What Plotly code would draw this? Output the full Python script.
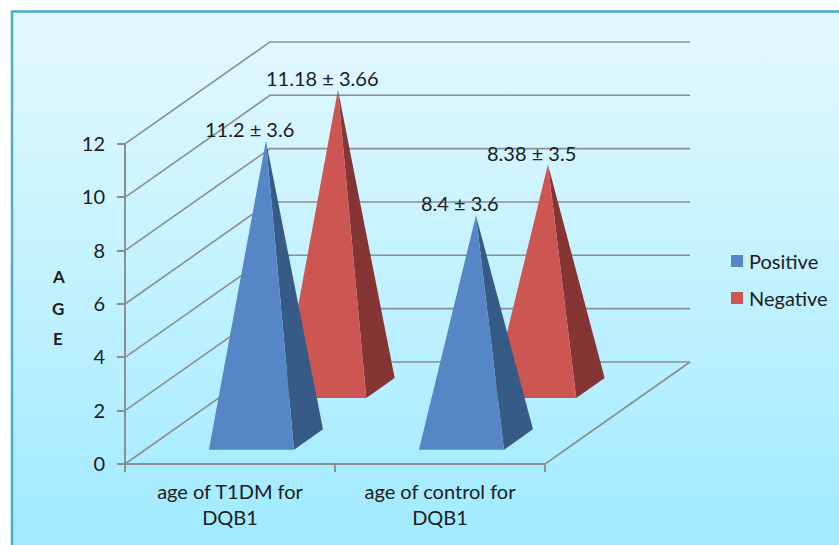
import plotly.graph_objects as go

# ---- data ----
categories = ["age of T1DM for<br>DQB1", "age of control for<br>DQB1"]
positive = [11.2, 8.4]
negative = [11.18, 8.38]
positive_labels = ["11.2 ± 3.6", "8.4 ± 3.6"]
negative_labels = ["11.18 ± 3.66", "8.38 ± 3.5"]
y_ticks = [0, 2, 4, 6, 8, 10, 12]
series_names = ["Positive", "Negative"]

# ---- styling / layout ----
W, H = 839, 545
X0, Y0 = 125, 464         # pixel of the chart origin
CAT_PX, VAL_PX = 210, 26.67
DEPTH_X, DEPTH_Y = 145 / CAT_PX, 102 / VAL_PX   # oblique offset of the floor depth
FONT = "Lato"
FS = 20
TEXT = "#1c1c1c"
GRID = "#8e8e8e"
BLUE, BLUE_SIDE = "#5586C6", "#375B87"
RED, RED_SIDE = "#CD5652", "#843534"

xr = [-X0 / CAT_PX, (W - X0) / CAT_PX]
yr = [(Y0 - H) / VAL_PX, Y0 / VAL_PX]


def proj(cat, depth, value):
    return cat + depth * DEPTH_X, value + depth * DEPTH_Y


fig = go.Figure()


def poly(points, color, name):
    xs = [p[0] for p in points]
    ys = [p[1] for p in points]
    fig.add_trace(go.Scatter(x=xs, y=ys, mode="lines", fill="toself", fillcolor=color,
                             line=dict(width=0), name=name, showlegend=False,
                             hoverinfo="name"))


def polyline(points, width=1.6):
    fig.add_trace(go.Scatter(x=[p[0] for p in points], y=[p[1] for p in points],
                             mode="lines", line=dict(color=GRID, width=width),
                             showlegend=False, hoverinfo="skip"))


# background gradient
fig.add_trace(go.Scatter(
    x=[xr[0] + 11 / CAT_PX, xr[1], xr[1], xr[0] + 11 / CAT_PX, xr[0] + 11 / CAT_PX],
    y=[yr[1] - 11 / VAL_PX, yr[1] - 11 / VAL_PX, yr[0], yr[0], yr[1] - 11 / VAL_PX],
    mode="lines", line=dict(width=0), fill="toself", showlegend=False, hoverinfo="skip",
    fillgradient=dict(type="vertical",
                      colorscale=[[0, "#A0EAFF"], [1, "#E4F9FF"]])))

# walls and floor
for v in y_ticks:
    polyline([proj(0, 0, v), proj(0, 1, v), proj(2, 1, v)])
polyline([proj(2, 0, 0), proj(2, 1, 0)])
polyline([proj(0, 0, 0), proj(2, 0, 0)], 2)
polyline([proj(0, 0, 0), proj(0, 0, 12)], 2)


def pyramid(i, value, d0, d1, front, side, name, shift=0.0):
    left, right = i + 0.303 + shift, i + 0.708 + shift
    apex = proj((left + right) / 2, (d0 + d1) / 2, value)
    poly([proj(right, d0, 0), proj(right, d1, 0), apex], side, name)
    poly([proj(left, d0, 0), proj(right, d0, 0), apex], front, name)
    return apex


apexes = []
for i, v in enumerate(negative):
    apexes.append((pyramid(i, v, 0.647, 0.843, RED, RED_SIDE, series_names[1], -0.006), negative_labels[i]))
for i, v in enumerate(positive):
    apexes.append((pyramid(i, v, 0.14, 0.34, BLUE, BLUE_SIDE, series_names[0]), positive_labels[i]))

annotations = [
    dict(x=a[0], y=a[1], xref="x", yref="y", text=t, showarrow=False,
         xshift=-16, yshift=12, font=dict(family=FONT, size=FS, color=TEXT))
    for a, t in apexes
]
for letter, py in zip("AGE", [276, 308, 338]):
    annotations.append(dict(x=58 / W, y=1 - py / H, xref="paper", yref="paper", text=f"<b>{letter}</b>",
                            xanchor="center", yanchor="middle", showarrow=False,
                            font=dict(family=FONT, size=17, color=TEXT)))
shapes = [
    dict(type="line", xref="paper", yref="paper", x0=12 / W, x1=12 / W, y0=0, y1=1 - 11 / H,
         line=dict(color="#4BACC6", width=2.5)),
    dict(type="line", xref="paper", yref="paper", x0=11 / W, x1=1, y0=1 - 11.5 / H, y1=1 - 11.5 / H,
         line=dict(color="#4BACC6", width=2.5)),
]
for name, color, py in zip(series_names, [BLUE, RED], [261, 298]):
    shapes.append(dict(type="rect", xref="paper", yref="paper", x0=731 / W, x1=743 / W,
                       y0=1 - (py + 6) / H, y1=1 - (py - 6) / H, fillcolor=color,
                       line=dict(width=0)))
    annotations.append(dict(x=747 / W, y=1 - py / H, xref="paper", yref="paper", text=name,
                            xanchor="left", yanchor="middle", showarrow=False,
                            font=dict(family=FONT, size=FS, color=TEXT)))

fig.update_layout(
    width=W, height=H, margin=dict(l=0, r=0, t=0, b=0),
    paper_bgcolor="white", plot_bgcolor="rgba(0,0,0,0)", showlegend=False,
    annotations=annotations, shapes=shapes,
    xaxis=dict(range=xr, anchor="free", position=(H - Y0) / H, showgrid=False, zeroline=False,
               showline=False, tickmode="array", tickvals=[0.5, 1.5], ticktext=categories,
               ticks="", tickfont=dict(family=FONT, size=FS, color=TEXT), ticklabelstandoff=14,
               minor=dict(tickmode="array", tickvals=[0, 1, 2], ticks="outside", ticklen=7,
                          tickwidth=2, tickcolor=GRID, showgrid=False)),
    yaxis=dict(range=yr, anchor="free", position=X0 / W, showgrid=False, zeroline=False,
               showline=False, tickmode="array", tickvals=y_ticks, ticks="outside", ticklen=8,
               tickwidth=2, tickcolor=GRID, tickfont=dict(family=FONT, size=FS, color=TEXT),
               ticklabelstandoff=8),
)

fig.write_html("out.html", post_script="document.body.style.margin='0';",
               config={"displayModeBar": False})
